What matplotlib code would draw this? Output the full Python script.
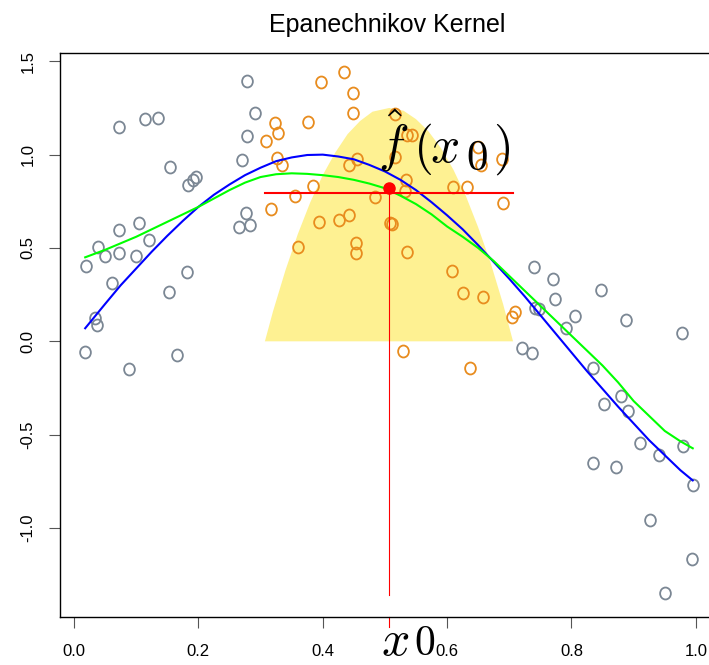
import matplotlib
matplotlib.use("Agg")
import matplotlib.pyplot as plt
from matplotlib.markers import MarkerStyle
from matplotlib.transforms import Affine2D

plt.rcParams["font.family"] = ["Liberation Sans", "DejaVu Sans"]
plt.rcParams["mathtext.fontset"] = "cm"

# points outside the kernel window (grey)
grey_x = [0.278, 0.072, 0.114, 0.135, 0.291, 0.279, 0.154, 0.184, 0.192, 0.197,
          0.270, 0.277, 0.265, 0.283, 0.1045, 0.073, 0.121, 0.038, 0.050, 0.073,
          0.099, 0.020, 0.061, 0.182, 0.153, 0.033, 0.037, 0.017, 0.088, 0.166,
          0.740, 0.771, 0.773, 0.847, 0.741, 0.748, 0.805, 0.791, 0.888, 0.977,
          0.720, 0.737, 0.835, 0.879, 0.852, 0.891, 0.910, 0.941, 0.980, 0.835,
          0.872, 0.995, 0.927, 0.993, 0.950]
grey_y = [1.396, 1.146, 1.189, 1.198, 1.221, 1.101, 0.932, 0.837, 0.864, 0.882,
          0.971, 0.689, 0.614, 0.623, 0.632, 0.596, 0.541, 0.503, 0.457, 0.471,
          0.459, 0.403, 0.311, 0.373, 0.262, 0.123, 0.087, -0.056, -0.150, -0.075,
          0.396, 0.332, 0.225, 0.275, 0.180, 0.173, 0.136, 0.070, 0.114, 0.043,
          -0.034, -0.064, -0.145, -0.291, -0.336, -0.373, -0.546, -0.609, -0.561, -0.654,
          -0.675, -0.770, -0.957, -1.168, -1.350]

# points inside the kernel window (orange)
win_x = [0.323, 0.328, 0.309, 0.326, 0.334, 0.317, 0.434, 0.397, 0.449, 0.449,
         0.376, 0.516, 0.535, 0.543, 0.516, 0.455, 0.442, 0.650, 0.655, 0.688,
         0.384, 0.355, 0.484, 0.534, 0.532, 0.610, 0.632, 0.690, 0.394, 0.426,
         0.442, 0.508, 0.512, 0.453, 0.453, 0.360, 0.536, 0.608, 0.625, 0.657,
         0.709, 0.704, 0.529, 0.637]
win_y = [1.168, 1.114, 1.073, 0.980, 0.944, 0.707, 1.444, 1.391, 1.332, 1.225,
         1.173, 1.218, 1.105, 1.105, 0.989, 0.975, 0.944, 1.042, 0.944, 0.975,
         0.834, 0.778, 0.775, 0.864, 0.807, 0.828, 0.828, 0.739, 0.641, 0.650,
         0.677, 0.635, 0.628, 0.528, 0.471, 0.503, 0.480, 0.377, 0.257, 0.239,
         0.159, 0.129, -0.050, -0.145]

# true function (blue) and kernel fit (green)
curve_x = [0.018, 0.05, 0.075, 0.10, 0.125, 0.15, 0.175, 0.20, 0.225, 0.25,
           0.275, 0.30, 0.325, 0.35, 0.375, 0.40, 0.425, 0.45, 0.475, 0.50,
           0.525, 0.55, 0.575, 0.60, 0.625, 0.65, 0.675, 0.70, 0.725, 0.75,
           0.775, 0.80, 0.825, 0.85, 0.875, 0.90, 0.925, 0.95, 0.975, 0.995]
true_y = [0.07, 0.20, 0.30, 0.39, 0.48, 0.565, 0.645, 0.72, 0.785, 0.84,
          0.89, 0.93, 0.965, 0.985, 0.998, 1.00, 0.99, 0.975, 0.945, 0.91,
          0.865, 0.81, 0.745, 0.675, 0.60, 0.515, 0.425, 0.335, 0.24, 0.14,
          0.04, -0.06, -0.16, -0.255, -0.35, -0.44, -0.53, -0.61, -0.69, -0.745]
fit_y = [0.45, 0.49, 0.525, 0.56, 0.60, 0.64, 0.68, 0.72, 0.765, 0.81,
         0.85, 0.88, 0.895, 0.90, 0.897, 0.89, 0.88, 0.865, 0.845, 0.82,
         0.78, 0.735, 0.68, 0.615, 0.56, 0.50, 0.43, 0.35, 0.27, 0.19,
         0.11, 0.03, -0.05, -0.13, -0.22, -0.32, -0.40, -0.48, -0.535, -0.573]

# kernel weights shape (yellow)
kern_x = [0.307, 0.32, 0.34, 0.36, 0.38, 0.40, 0.42, 0.44, 0.46, 0.48, 0.507,
          0.53, 0.55, 0.57, 0.59, 0.61, 0.63, 0.65, 0.67, 0.69, 0.706]
kern_y = [0.0, 0.16, 0.38, 0.575, 0.745, 0.89, 1.01, 1.11, 1.18, 1.23, 1.25,
          1.235, 1.19, 1.125, 1.035, 0.92, 0.78, 0.61, 0.42, 0.20, 0.0]

x0 = 0.507
fhat = 0.823
band_y = 0.793
xticks = [0.0, 0.2, 0.4, 0.6, 0.8, 1.0]
yticks = [-1.0, -0.5, 0.0, 0.5, 1.0, 1.5]

W, H = 709, 665
fig = plt.figure(figsize=(W / 100, H / 100), dpi=100)
ax = fig.add_axes([60 / W, (H - 616.7) / H, (717 - 60) / W, (616.7 - 52.7) / H])

ax.fill(kern_x, kern_y, color="#fef192", lw=0, zorder=1)

circ = MarkerStyle("o", fillstyle="none", transform=Affine2D().scale(0.9, 1.0))
ax.plot(grey_x, grey_y, ls="none", marker=circ, ms=8.6, mew=1.3,
        color="#7b8794", zorder=2)
ax.plot(win_x, win_y, ls="none", marker=circ, ms=8.6, mew=1.3,
        color="#e88c1e", zorder=2)

ax.plot(curve_x, true_y, color="#0000ff", lw=1.5, zorder=3)
ax.plot(curve_x, fit_y, color="#00ff00", lw=1.5, zorder=3)

ax.plot([kern_x[0], kern_x[-1]], [band_y, band_y], color="#ff0000", lw=1.5, zorder=4)
ax.plot([x0, x0], [fhat, -1.36], color="#ff0000", lw=0.8, zorder=4)
ax.plot([x0], [fhat], "o", color="#ff0000", ms=8, zorder=5)

ax.set_xlim(-0.0225, 1.034)
ax.set_ylim(-1.475, 1.546)
ax.spines["right"].set_visible(False)
for s in ax.spines.values():
    s.set_linewidth(1.0)

ax.set_xticks(xticks)
ax.set_xticklabels([f"{t:.1f}" for t in xticks])
ax.set_yticks(yticks)
ax.set_yticklabels([f"{t:.1f}" for t in yticks], rotation=90, va="center")
ax.tick_params(length=7.6, width=0.8, color="#555555", labelsize=12)
ax.tick_params(axis="x", pad=12)
ax.tick_params(axis="y", pad=10)

# red tick at x0 under the axis
ax.plot([x0, x0], [-1.475, -1.532], color="#ff0000", lw=0.8, clip_on=False)

fig.text(387.5 / W, 1 - 31.7 / H, "Epanechnikov Kernel", ha="center",
         va="baseline", fontsize=18)

# f-hat(x0) label, built from pieces
fig.text(378 / W, 1 - 162 / H, r"$\hat{f}$", ha="left", va="baseline", fontsize=37)
fig.text(413 / W, 1 - 162 / H, r"$($", ha="left", va="baseline", fontsize=37)
fig.text(430 / W, 1 - 162 / H, r"$x$", ha="left", va="baseline", fontsize=37)
fig.text(466 / W, 1 - 170.5 / H, r"$0$", ha="left", va="baseline", fontsize=31)
fig.text(493 / W, 1 - 162 / H, r"$)$", ha="left", va="baseline", fontsize=37)

# x0 label under the axis
fig.text(381 / W, 1 - 655 / H, r"$x$", ha="left", va="baseline", fontsize=36)
fig.text(414 / W, 1 - 664 / H, r"$0$", ha="left", va="bottom", fontsize=30)

fig.savefig("out.png", dpi=100)
